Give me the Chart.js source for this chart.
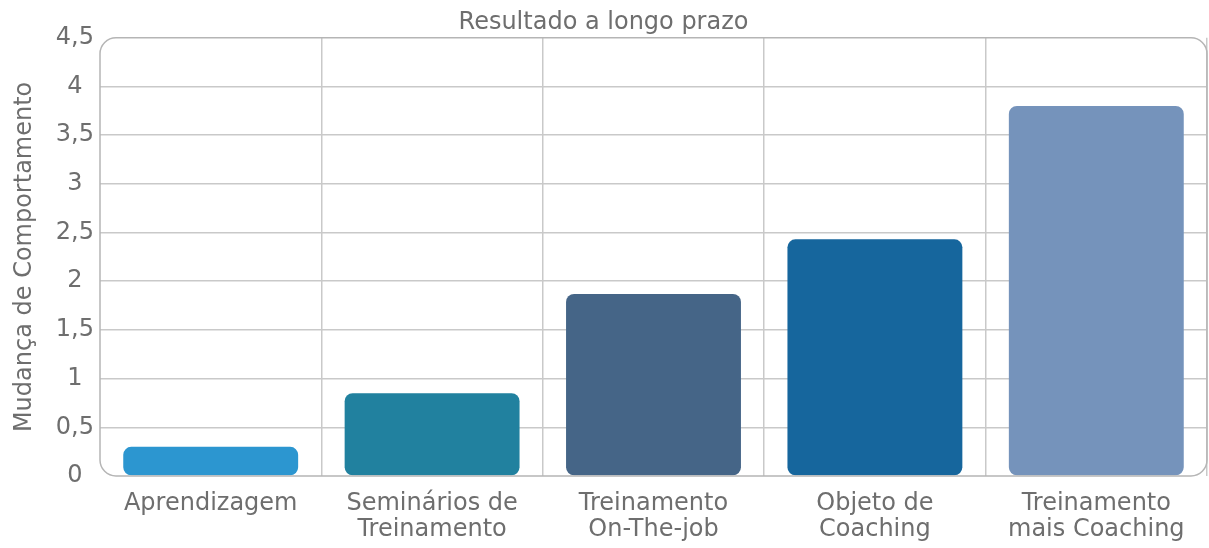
<!DOCTYPE html>
<html>
<head>
<meta charset="utf-8">
<script src="https://cdn.jsdelivr.net/npm/chart.js@4/dist/chart.umd.min.js"></script>
<style>
  html, body { margin: 0; padding: 0; background: #fff; }
  #wrap { width: 1209px; height: 548px; }
</style>
</head>
<body>
<div id="wrap"><canvas id="chart" width="1209" height="548"></canvas></div>
<script>
const categories = [
    ["Aprendizagem"],
    ["Seminários de", "Treinamento"],
    ["Treinamento", "On-The-job"],
    ["Objeto de", "Coaching"],
    ["Treinamento", "mais Coaching"],
];
const values = [0.3, 0.85, 1.87, 2.43, 3.8];
const barColors = ["#2c96d0", "#21819f", "#456587", "#16669d", "#7593bb"];
const yTicks = [0, 0.5, 1, 1.5, 2, 2.5, 3, 3.5, 4, 4.5];

const gridColor = "#c9c9c9";
const textColor = "#6e6e6e";
const fontFamily = "'DejaVu Sans', Verdana, sans-serif";

// rounded frame around the plot area
const roundedFrame = {
    id: "roundedFrame",
    afterDraw(chart) {
        const { ctx, chartArea: a } = chart;
        ctx.save();
        ctx.strokeStyle = "#b5b5b5";
        ctx.lineWidth = 1.5;
        ctx.beginPath();
        ctx.roundRect(a.left, a.top, a.right - a.left, a.bottom - a.top, 16);
        ctx.stroke();
        ctx.restore();
    },
};

const chart = new Chart(document.getElementById("chart"), {
    type: "bar",
    data: {
        labels: categories,
        datasets: [
            {
                data: values,
                backgroundColor: barColors,
                borderRadius: 8,
                borderSkipped: false,
                categoryPercentage: 0.79,
                barPercentage: 1.0,
            },
        ],
    },
    options: {
        responsive: false,
        animation: false,
        layout: { padding: { right: 2, left: 0 } },
        plugins: {
            legend: { display: false },
            tooltip: { enabled: false },
            title: {
                display: true,
                text: "Resultado a longo prazo",
                color: textColor,
                font: { family: fontFamily, size: 24, weight: "normal" },
                padding: { top: 8, bottom: 1 },
            },
        },
        scales: {
            x: {
                grid: {
                    offset: true,
                    lineWidth: 1.5,
                    color: (c) => (c.index === 0 || c.index === categories.length ? "transparent" : gridColor),
                    drawTicks: false,
                },
                border: { display: false },
                ticks: {
                    color: textColor,
                    padding: 15,
                    maxRotation: 0,
                    font: { family: fontFamily, size: 24, lineHeight: 1.08 },
                },
                afterFit(scale) {
                    scale.height = 72;
                },
            },
            y: {
                min: 0,
                max: 4.5,
                afterBuildTicks(scale) {
                    scale.ticks = yTicks.map((v) => ({ value: v }));
                },
                grid: {
                    lineWidth: 1.5,
                    color: (c) => (c.tick && (c.tick.value === 0 || c.tick.value === 4.5) ? "transparent" : gridColor),
                    drawTicks: false,
                },
                border: { display: false },
                ticks: {
                    color: textColor,
                    padding: 6,
                    crossAlign: "center",
                    font: { family: fontFamily, size: 24 },
                    callback: (v) => String(v).replace(".", ","),
                },
                title: {
                    display: true,
                    text: "Mudança de Comportamento",
                    color: textColor,
                    font: { family: fontFamily, size: 24 },
                    padding: { top: 10, bottom: 4 },
                },
                afterFit(scale) {
                    scale.width = 100;
                },
            },
        },
    },
    plugins: [roundedFrame],
});
</script>
</body>
</html>
